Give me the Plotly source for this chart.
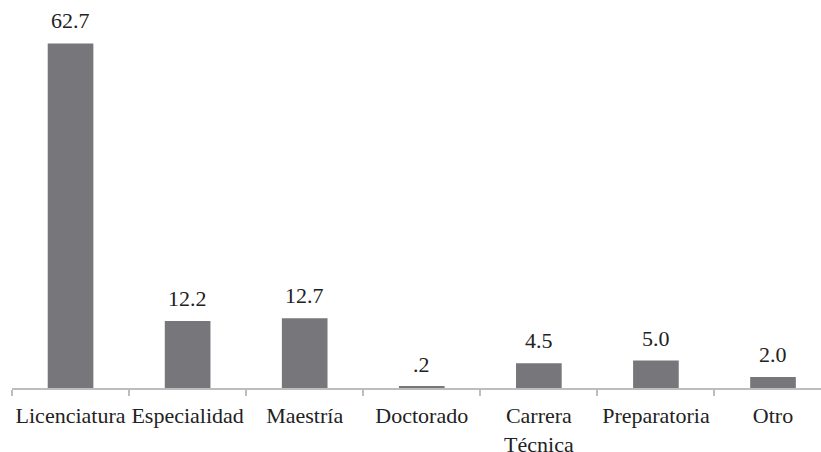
import plotly.graph_objects as go

categories = ["Licenciatura", "Especialidad", "Maestría", "Doctorado",
              "Carrera<br>Técnica", "Preparatoria", "Otro"]
values = [62.7, 12.2, 12.7, 0.2, 4.5, 5.0, 2.0]
value_labels = ["62.7", "12.2", "12.7", ".2", "4.5", "5.0", "2.0"]

FONT = "Liberation Serif"
fig = go.Figure()
fig.add_trace(go.Bar(
    x=categories, y=values,
    marker=dict(color="#77777b", line=dict(width=0)),
    width=0.39,
    hoverinfo="skip",
))
for c, v, t in zip(categories, values, value_labels):
    fig.add_annotation(x=c, y=v, text=t, showarrow=False, yanchor="bottom",
                       yshift=8, font=dict(family=FONT, size=22, color="#222222"))

fig.update_layout(
    width=821, height=452,
    margin=dict(l=12, r=0, t=0, b=64, autoexpand=False),
    paper_bgcolor="white", plot_bgcolor="white",
    showlegend=False,
    font=dict(family=FONT, size=22, color="#222222"),
    xaxis=dict(
        type="category",
        range=[-0.5, 6.41],
        automargin=False,
        tickangle=0,
        showline=True, linecolor="#bdbdbd", linewidth=1.5,
        ticks="outside", tickson="boundaries", ticklen=6, tickcolor="#bdbdbd",
        tickwidth=1.5,
        ticklabelstandoff=7,
        showgrid=False, zeroline=False,
        tickfont=dict(family=FONT, size=22, color="#222222"),
    ),
    yaxis=dict(
        range=[0, 70.6], visible=False, showgrid=False, zeroline=False,
        automargin=False,
    ),
)
fig.write_html("out.html", config={"displayModeBar": False},
               post_script="document.body.style.margin='0';")
